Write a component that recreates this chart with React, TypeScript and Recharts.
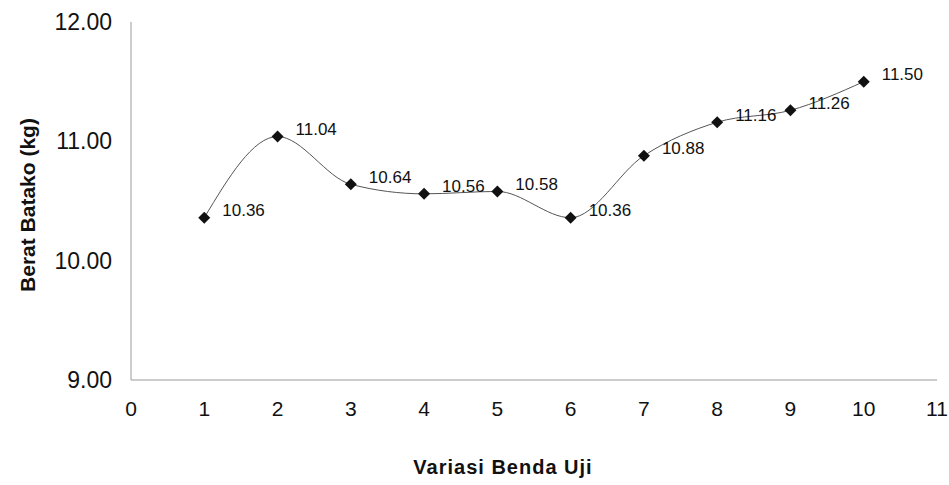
import { LineChart, Line, XAxis, YAxis, LabelList, Label } from "recharts";

const benda = [1, 2, 3, 4, 5, 6, 7, 8, 9, 10];
const berat = [10.36, 11.04, 10.64, 10.56, 10.58, 10.36, 10.88, 11.16, 11.26, 11.5];
const xTicks = [0, 1, 2, 3, 4, 5, 6, 7, 8, 9, 10, 11];
const yTicks = [9, 10, 11, 12];

const FONT = "'Liberation Sans', Arial, sans-serif";

const data = benda.map((b, i) => ({ x: b, y: berat[i] }));

function Diamond(props: any) {
  const { cx, cy } = props;
  if (cx == null || cy == null) return null;
  const r = 6;
  return (
    <polygon
      points={`${cx},${cy - r} ${cx + r},${cy} ${cx},${cy + r} ${cx - r},${cy}`}
      fill="#111"
    />
  );
}

function PointLabel(props: any) {
  const { x, y, value } = props;
  return (
    <text x={x + 18} y={y - 7} dominantBaseline="central" fontSize={17} fill="#111" fontFamily={FONT}>
      {Number(value).toFixed(2)}
    </text>
  );
}

function YTitle(props: any) {
  const vb = props.viewBox;
  const cx = vb.x + 27;
  const cy = vb.y + vb.height / 2 + 4;
  return (
    <text x={cx} y={cy} transform={`rotate(-90 ${cx} ${cy})`} textAnchor="middle" dominantBaseline="central"
      fontSize={21} fontWeight="bold" fontFamily={FONT} fill="#111">
      Berat Batako (kg)
    </text>
  );
}

function XTitle(props: any) {
  const vb = props.viewBox;
  return (
    <text x={vb.x + vb.width / 2 - 31} y={467} textAnchor="middle" dominantBaseline="central"
      fontSize={20} fontWeight="bold" fontFamily={FONT} fill="#111" letterSpacing={1}>
      Variasi Benda Uji
    </text>
  );
}

export default function App() {
  return (
    <div style={{ position: "absolute", left: 0, top: 0 }}>
      <LineChart width={949} height={485} data={data} margin={{ top: 22, right: 12, bottom: 75, left: 0 }}>
        <XAxis dataKey="x" type="number" domain={[0, 11]} ticks={xTicks} interval={0} height={30}
          axisLine={{ stroke: "#999" }} tickLine={false} tickSize={0} tickMargin={21}
          tick={{ fontSize: 21, fill: "#111", fontFamily: FONT }}>
          <Label content={<XTitle />} />
        </XAxis>
        <YAxis type="number" domain={[9, 12]} ticks={yTicks} width={131} interval={0}
          tickFormatter={(v: number) => v.toFixed(2)}
          axisLine={{ stroke: "#999" }} tickLine={false} tickSize={0} tickMargin={19}
          tick={{ fontSize: 23, fill: "#111", fontFamily: FONT }}>
          <Label content={<YTitle />} />
        </YAxis>
        <Line type="monotone" dataKey="y" stroke="#555" strokeWidth={1} dot={<Diamond />}
          activeDot={false} isAnimationActive={false}>
          <LabelList dataKey="y" content={<PointLabel />} />
        </Line>
      </LineChart>
    </div>
  );
}
